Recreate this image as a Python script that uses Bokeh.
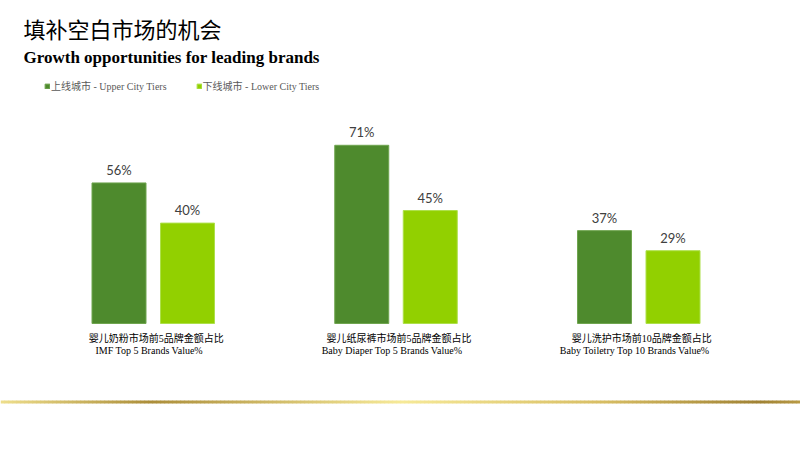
from bokeh.plotting import figure
from bokeh.models import Range1d, ColumnDataSource, Legend, LegendItem
from bokeh.core.properties import value
from bokeh.embed import file_html
from bokeh.resources import INLINE

# ---- data ----
title_cn = "填补空白市场的机会"
title_en = "Growth opportunities for leading brands"
categories_cn = ["婴儿奶粉市场前5品牌金额占比", "婴儿纸尿裤市场前5品牌金额占比", "婴儿洗护市场前10品牌金额占比"]
categories_en = ["IMF Top 5 Brands Value%", "Baby Diaper Top 5 Brands Value%", "Baby Toiletry Top 10 Brands Value%"]
series_names = ["上线城市 - Upper City Tiers", "下线城市 - Lower City Tiers"]
upper_values = [56, 71, 37]
lower_values = [40, 45, 29]

# ---- layout helpers ----
W, H = 800, 450
PX_X = 242.75          # pixels per category step
PX_Y = 2.51            # pixels per percent
X0 = -152.75 / PX_X
Y0 = -(H - 323) / PX_Y
OFF = 34.25 / PX_X
BW = 54 / PX_X

def dx(px):
    return X0 + px / PX_X

def dy(py):
    return Y0 + (H - py) / PX_Y

p = figure(width=W, height=H, x_range=Range1d(X0, X0 + W / PX_X),
           y_range=Range1d(Y0, Y0 + H / PX_Y), output_backend="svg",
           toolbar_location=None, min_border=0,
           x_axis_location=None, y_axis_location=None)
p.grid.visible = False
p.outline_line_color = None
p.background_fill_color = "white"
p.border_fill_color = "white"

idx = list(range(len(categories_en)))
src = ColumnDataSource(dict(
    xu=[i - OFF for i in idx], xl=[i + OFF for i in idx],
    up=upper_values, lo=lower_values,
    up_t=[f"{v}%" for v in upper_values], lo_t=[f"{v}%" for v in lower_values],
    xc=idx, zero=[0] * len(idx), cn=categories_cn, en=categories_en,
))

DARK = "#4E8A2D"
LIGHT = "#92D000"
r1 = p.vbar(x="xu", top="up", bottom=0, width=BW, source=src,
            fill_color=DARK, line_color="#6FA54F", line_width=1)
r2 = p.vbar(x="xl", top="lo", bottom=0, width=BW, source=src,
            fill_color=LIGHT, line_color="#ADE04A", line_width=1)

lab_font = value("Lato")
p.text(x="xu", y="up", text="up_t", source=src, text_align="center",
       text_baseline="alphabetic", y_offset=-13, text_font=lab_font,
       text_font_size="13px", text_color="#404040")
p.text(x="xl", y="lo", text="lo_t", source=src, text_align="center",
       text_baseline="alphabetic", y_offset=-13, text_font=lab_font,
       text_font_size="13px", text_color="#404040")

cat_font = value("Liberation Serif, Noto Sans CJK SC")
p.text(x="xc", y="zero", text="cn", source=src, text_align="center",
       text_baseline="middle", x_offset=3, y_offset=15, text_font=cat_font,
       text_font_size="10px", text_color="#000000")
p.text(x="xc", y="zero", text="en", source=src, text_align="center",
       text_baseline="middle", x_offset=-4, y_offset=27, text_font=cat_font,
       text_font_size="10px", text_color="#000000")

# titles
p.text(x=[dx(23)], y=[dy(27.5)], text=[title_cn], text_align="left",
       text_baseline="middle", text_font=value("Noto Sans CJK SC"),
       text_font_size="22px", text_color="#000000")
p.text(x=[dx(23)], y=[dy(57)], text=[title_en], text_align="left",
       text_baseline="alphabetic", text_font=value("Liberation Serif"),
       text_font_size="17px", text_font_style="bold", text_color="#000000")

# legend
legend = Legend(items=[LegendItem(label=series_names[0], renderers=[r1]),
                       LegendItem(label=series_names[1], renderers=[r2])],
                orientation="horizontal", location=(44, 357),
                glyph_width=6, glyph_height=6, label_standoff=1, spacing=29,
                padding=0, margin=0, border_line_color=None,
                background_fill_alpha=0,
                label_text_font="Liberation Serif, Noto Sans CJK SC",
                label_text_font_size="10px", label_text_color="#595959",
                label_height=10, label_width=0)
p.add_layout(legend)

# decorative gold rule with a gradient
stops = [(0, (238, 222, 140)), (150, (172, 142, 58)), (400, (246, 233, 152)),
         (600, (216, 190, 100)), (760, (160, 130, 52)), (800, (185, 155, 70))]

def col_at(px):
    for (a, ca), (b, cb) in zip(stops[:-1], stops[1:]):
        if a <= px <= b:
            t = (px - a) / (b - a)
            c = [round(ca[k] + (cb[k] - ca[k]) * t) for k in range(3)]
            return "#%02x%02x%02x" % tuple(c)
    return "#%02x%02x%02x" % stops[-1][1]

step = 4
gx = list(range(0, W, step))
p.quad(left=[dx(px) for px in gx], right=[dx(px + step + 0.6) for px in gx],
       top=[dy(400)] * len(gx), bottom=[dy(403)] * len(gx),
       fill_color=[col_at(px + step / 2) for px in gx], line_color=None)

open("out.html", "w").write(file_html(p, INLINE))
